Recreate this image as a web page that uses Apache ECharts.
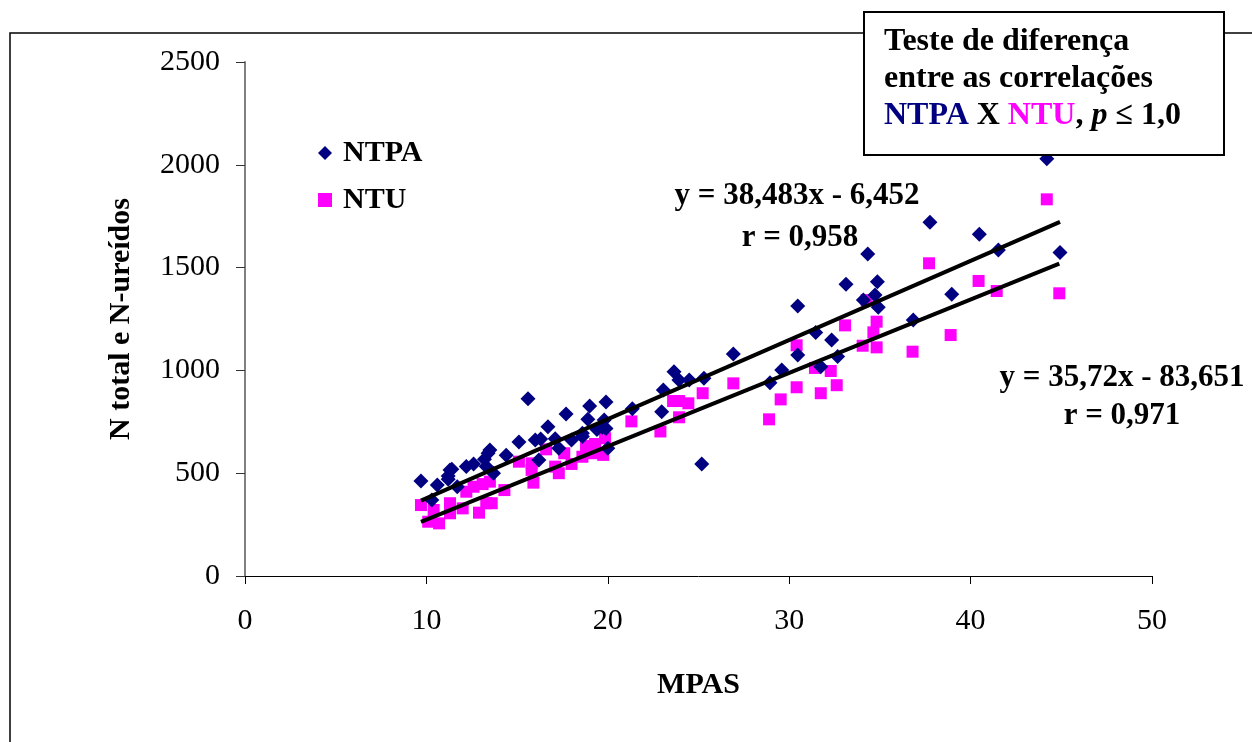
<!DOCTYPE html>
<html><head><meta charset="utf-8">
<script src="https://cdn.jsdelivr.net/npm/echarts@6/dist/echarts.min.js"></script>
<style>html,body{margin:0;padding:0;background:#fff}#c{width:1252px;height:742px}</style>
</head><body><div id="c"></div>
<script>
const seriesNames = ['NTPA', 'NTU'];
const ntpa = [
  [9.7,462],[10.3,370],[10.6,443],[11.2,470],[11.2,486],[11.3,516],[11.4,519],[11.7,434],
  [12.2,532],[12.6,545],[13.2,568],[13.3,532],[13.4,597],[13.5,613],[13.7,500],[14.4,587],
  [15.1,652],[15.6,862],[16.0,661],[16.3,666],[16.2,564],[16.7,726],[17.1,668],[17.3,621],
  [17.7,788],[18.0,661],[18.6,678],[18.6,694],[18.9,762],[19.0,827],[19.4,712],[19.7,723],
  [19.8,759],[19.9,718],[19.9,846],[20.0,621],[21.35,814],[22.97,799],[23.06,905],[23.65,994],
  [23.92,953],[24.49,953],[25.18,545],[25.3,962],[26.92,1080],[28.94,940],[29.59,1002],
  [30.47,1313],[30.47,1075],[31.46,1184],[31.74,1018],[32.34,1148],[32.67,1067],[33.13,1419],
  [34.09,1343],[34.33,1566],[34.73,1367],[34.86,1431],[34.91,1307],[36.84,1245],[37.76,1720],
  [38.96,1370],[40.48,1662],[41.53,1586],[44.2,2030],[44.93,1574]
];
const ntu = [
  [9.7,345],[10.1,264],[10.4,321],[10.7,256],[11.3,354],[11.3,305],[12.0,329],[12.2,410],
  [12.6,434],[12.9,308],[13.1,447],[13.5,459],[13.3,354],[13.6,354],[14.3,418],[15.1,556],
  [15.8,548],[15.9,454],[15.8,516],[16.6,616],[17.1,532],[17.3,500],[17.6,597],[18.0,545],
  [18.6,580],[18.8,632],[19.3,642],[19.2,597],[19.75,589],[19.85,670],[21.3,752],[22.9,703],
  [23.6,851],[23.93,851],[23.93,772],[24.44,840],[25.23,889],[26.92,937],[28.89,762],
  [29.53,859],[30.41,1122],[30.41,918],[31.42,1012],[31.74,889],[32.29,997],[32.62,928],
  [33.08,1219],[34.05,1120],[34.27,1342],[34.64,1185],[34.82,1237],[34.82,1112],[36.8,1091],
  [37.71,1521],[38.9,1172],[40.44,1435],[41.44,1386],[44.2,1832],[44.89,1375]
];
// regression: [slope, intercept]
const trendNTPA = [38.483, -6.452];
const trendNTU = [35.72, -83.651];
const eqNTPA = ['y = 38,483x - 6,452', 'r = 0,958'];
const eqNTU = ['y = 35,72x - 83,651', 'r = 0,971'];
const boxLines = ['Teste de diferença', 'entre as correlações'];
const xAxisName = 'MPAS';
const yAxisName = 'N total e N-ureídos';

const SERIF = "'Liberation Serif','Times New Roman',serif";

function trendLine(data, coef) {
  const xs = data.map(d => d[0]);
  const x0 = Math.min(...xs), x1 = Math.max(...xs);
  return [[x0, coef[0] * x0 + coef[1]], [x1, coef[0] * x1 + coef[1]]];
}

const chart = echarts.init(document.getElementById('c'), null, {renderer: 'canvas'});
chart.setOption({
  animation: false,
  backgroundColor: '#fff',
  grid: {left: 245, right: 100, top: 62, bottom: 166},
  legend: {
    data: seriesNames,
    orient: 'vertical',
    left: 313, top: 133,
    itemWidth: 14, itemHeight: 14, itemGap: 17,
    textStyle: {fontFamily: SERIF, fontWeight: 'bold', fontSize: 30, color: '#000', padding: [0, 0, 0, 6]}
  },
  xAxis: {
    type: 'value', min: 0, max: 50, interval: 10,
    name: xAxisName, nameLocation: 'middle', nameGap: 94,
    nameTextStyle: {fontFamily: SERIF, fontWeight: 'bold', fontSize: 30, color: '#000'},
    axisLine: {show: true, lineStyle: {color: '#000', width: 1}},
    axisTick: {show: true, length: 8, lineStyle: {color: '#000'}},
    axisLabel: {fontFamily: SERIF, fontSize: 30, color: '#000', margin: 30, formatter: v => String(v)},
    splitLine: {show: false}
  },
  yAxis: {
    type: 'value', min: 0, max: 2500, interval: 500,
    name: yAxisName, nameLocation: 'middle', nameGap: 109, nameRotate: 90,
    nameTextStyle: {fontFamily: SERIF, fontWeight: 'bold', fontSize: 30, color: '#000'},
    axisLine: {show: true, lineStyle: {color: '#808080', width: 2}},
    axisTick: {show: true, length: 9, lineStyle: {color: '#333'}},
    axisLabel: {fontFamily: SERIF, fontSize: 30, color: '#000', margin: 25, formatter: v => String(v)},
    splitLine: {show: false}
  },
  series: [
    {name: 'NTPA', type: 'scatter', data: ntpa, symbol: 'diamond', symbolSize: 15,
     itemStyle: {color: '#000080', opacity: 1}, z: 3},
    {name: 'NTU', type: 'scatter', data: ntu, symbol: 'rect', symbolSize: 12,
     itemStyle: {color: '#FF00FF', opacity: 1}, z: 2},
    {name: 'trendNTPA', type: 'line', data: trendLine(ntpa, trendNTPA), symbol: 'none',
     lineStyle: {color: '#000', width: 4}, silent: true, z: 4},
    {name: 'trendNTU', type: 'line', data: trendLine(ntu, trendNTU), symbol: 'none',
     lineStyle: {color: '#000', width: 4}, silent: true, z: 4}
  ],
  graphic: [
    {type: 'rect', z: 0, silent: true,
     shape: {x: 10, y: 33, width: 1400, height: 900},
     style: {fill: 'none', stroke: '#000', lineWidth: 1.5}},
    {type: 'text', z: 50, x: 797, y: 196,
     style: {text: eqNTPA[0], font: 'bold 31px ' + SERIF, fill: '#000', align: 'center', verticalAlign: 'middle'}},
    {type: 'text', z: 50, x: 800, y: 238,
     style: {text: eqNTPA[1], font: 'bold 31px ' + SERIF, fill: '#000', align: 'center', verticalAlign: 'middle'}},
    {type: 'text', z: 50, x: 1122, y: 378,
     style: {text: eqNTU[0], font: 'bold 31px ' + SERIF, fill: '#000', align: 'center', verticalAlign: 'middle'}},
    {type: 'text', z: 50, x: 1122, y: 416,
     style: {text: eqNTU[1], font: 'bold 31px ' + SERIF, fill: '#000', align: 'center', verticalAlign: 'middle'}},
    {type: 'rect', z: 100, silent: true,
     shape: {x: 864, y: 12, width: 360, height: 143},
     style: {fill: '#fff', stroke: '#000', lineWidth: 2}},
    {type: 'text', z: 101, x: 884, y: 42,
     style: {text: boxLines[0], font: 'bold 32px ' + SERIF, fill: '#000', align: 'left', verticalAlign: 'middle'}},
    {type: 'text', z: 101, x: 884, y: 79,
     style: {text: boxLines[1], font: 'bold 32px ' + SERIF, fill: '#000', align: 'left', verticalAlign: 'middle'}},
    {type: 'text', z: 101, x: 884, y: 116,
     style: {
       text: '{n|' + seriesNames[0] + '}{k| X }{m|' + seriesNames[1] + '}{k|, }{p|p}{k| ≤ 1,0}',
       font: 'bold 32px ' + SERIF, align: 'left', verticalAlign: 'middle',
       rich: {
         n: {fill: '#000080', font: 'bold 32px ' + SERIF},
         m: {fill: '#FF00FF', font: 'bold 32px ' + SERIF},
         k: {fill: '#000', font: 'bold 32px ' + SERIF},
         p: {fill: '#000', font: 'italic bold 32px ' + SERIF}
       }
     }}
  ]
});
</script>
</body></html>
